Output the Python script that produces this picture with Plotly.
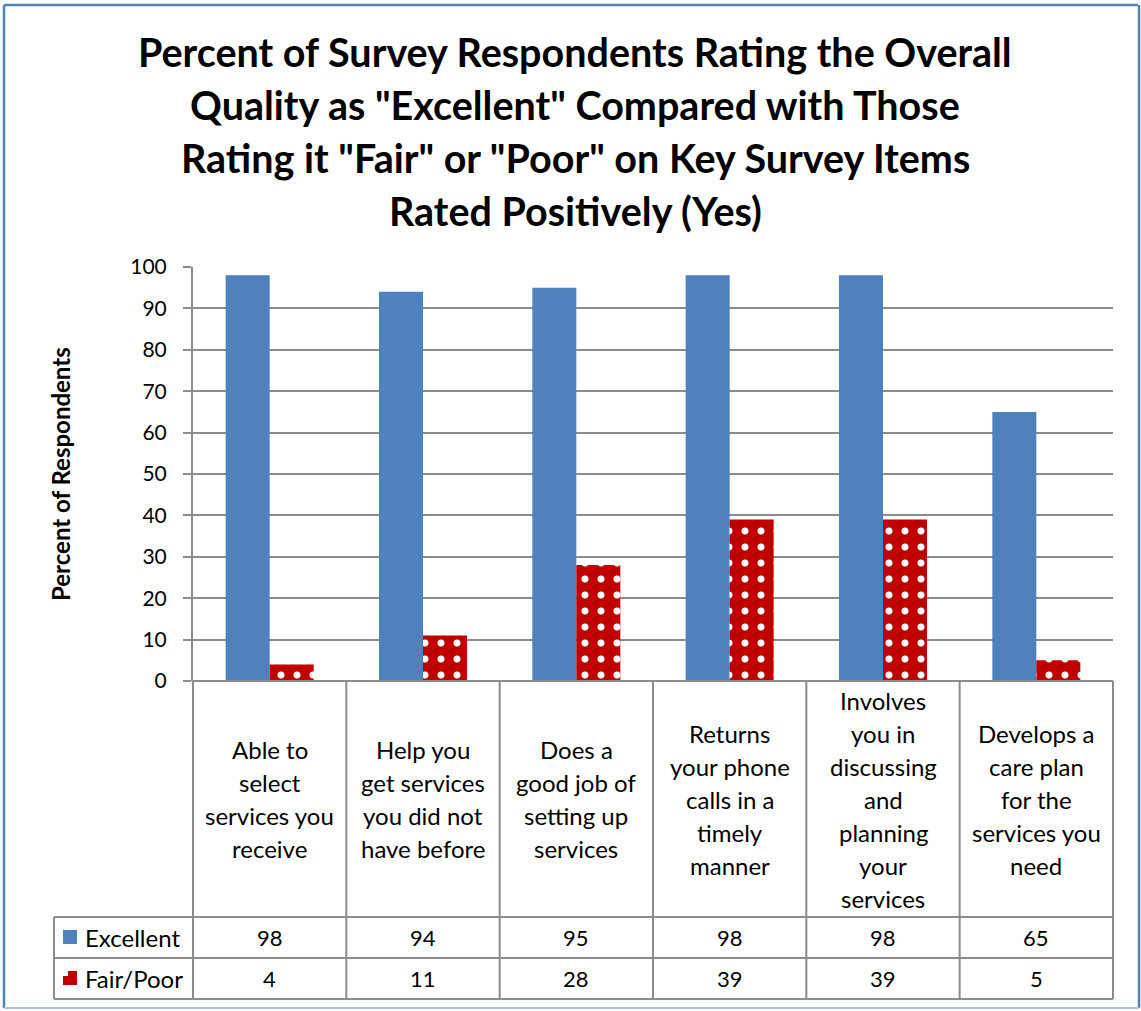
import plotly.graph_objects as go

W, H = 1141, 1011

title_lines = [
    "Percent of Survey Respondents Rating the Overall",
    "Quality as \"Excellent\" Compared with Those",
    "Rating it \"Fair\" or \"Poor\" on Key Survey Items",
    "Rated Positively (Yes)",
]
categories = [
    ["Able to", "select", "services you", "receive"],
    ["Help you", "get services", "you did not", "have before"],
    ["Does a", "good job of", "setting up", "services"],
    ["Returns", "your phone", "calls in a", "timely", "manner"],
    ["Involves", "you in", "discussing", "and", "planning", "your", "services"],
    ["Develops a", "care plan", "for the", "services you", "need"],
]
series_names = ["Excellent", "Fair/Poor"]
excellent = [98, 94, 95, 98, 98, 65]
fair_poor = [4, 11, 28, 39, 39, 5]
y_ticks = [0, 10, 20, 30, 40, 50, 60, 70, 80, 90, 100]
y_title = "Percent of Respondents"

BLUE = "#4f81bd"
RED = "#c00000"
GRID = "#8c8c8c"
FONT = "Lato"

def px(x):
    return x / W

def py(y):
    return 1 - y / H

# layout geometry (pixels)
PL, PR = 193, 1113      # plot left/right
PT, PB = 267, 681       # plot top (100) / bottom (0)
ROW1, ROW2, ROW3 = 917, 958, 999
LEG_L = 54

xs = list(range(len(categories)))

fig = go.Figure()
fig.add_trace(go.Bar(
    x=xs, y=excellent, name=series_names[0],
    marker=dict(color=BLUE, line=dict(width=0)), showlegend=False,
))
fig.add_trace(go.Bar(
    x=xs, y=fair_poor, name=series_names[1],
    marker=dict(color=RED, line=dict(width=0),
                pattern=dict(shape=".", bgcolor=RED, fgcolor="white",
                             size=16, solidity=0.15, fillmode="replace")),
    showlegend=False,
))

shapes = []
def line(x0, y0, x1, y1, color=GRID, width=2):
    shapes.append(dict(type="line", xref="paper", yref="paper",
                       x0=px(x0), y0=py(y0), x1=px(x1), y1=py(y1),
                       line=dict(color=color, width=width)))

# table borders
n = len(categories)
cw = (PR - PL) / n
for i in range(n + 1):
    xb = PL + i * cw
    line(xb, PB, xb, ROW3)
line(LEG_L, ROW1, LEG_L, ROW3)
for yy in (ROW1, ROW2, ROW3):
    line(LEG_L, yy, PR, yy)
line(PL, PB, PR, PB)

# outer frame
line(4, 5, 1138, 5, BLUE, 2.5)
line(4, 5, 4, 1008, BLUE, 2.5)
line(1139, 5, 1139, 1008, BLUE, 2.5)
line(4, 1008, 1139, 1008, "#a7c3e6", 2)

# legend keys in table
shapes.append(dict(type="rect", xref="paper", yref="paper",
                   x0=px(63), x1=px(77), y0=py(944), y1=py(930),
                   fillcolor=BLUE, line=dict(width=0)))
shapes.append(dict(type="rect", xref="paper", yref="paper",
                   x0=px(63), x1=px(77), y0=py(985), y1=py(971),
                   fillcolor=RED, line=dict(width=0)))
shapes.append(dict(type="rect", xref="paper", yref="paper",
                   x0=px(63), x1=px(68), y0=py(976), y1=py(971),
                   fillcolor="white", line=dict(width=0)))

annotations = []
# title
for k, t in enumerate(title_lines):
    annotations.append(dict(text=f"<b>{t}</b>", xref="paper", yref="paper",
                            x=px(575), y=py(52 + k * 52.7), showarrow=False,
                            xanchor="center", yanchor="middle",
                            font=dict(family=FONT, size=39.5, color="black")))
# y title
annotations.append(dict(text=f"<b>{y_title}</b>", xref="paper", yref="paper",
                        x=px(60), y=py(474), textangle=-90, showarrow=False,
                        xanchor="center", yanchor="middle",
                        font=dict(family=FONT, size=24, color="black")))
# category labels
hc = (PB + ROW1) / 2
LS = 33
for i, lines in enumerate(categories):
    m = len(lines)
    for j, t in enumerate(lines):
        annotations.append(dict(text=t, xref="x", yref="paper", x=xs[i],
                                y=py(hc + (j - (m - 1) / 2) * LS),
                                showarrow=False, xanchor="center", yanchor="middle",
                                font=dict(family=FONT, size=24, color="black")))
# values rows
for r, (vals, yc) in enumerate([(excellent, (ROW1 + ROW2) / 2), (fair_poor, (ROW2 + ROW3) / 2)]):
    for i, v in enumerate(vals):
        annotations.append(dict(text=str(v), xref="x", yref="paper", x=xs[i],
                                y=py(yc), showarrow=False, xanchor="center",
                                yanchor="middle",
                                font=dict(family=FONT, size=22, color="black")))
    annotations.append(dict(text=series_names[r], xref="paper", yref="paper",
                            x=px(83), y=py(yc), showarrow=False, xanchor="left",
                            yanchor="middle",
                            font=dict(family=FONT, size=24, color="black")))

fig.update_layout(
    width=W, height=H, autosize=False,
    margin=dict(l=0, r=0, t=0, b=0, pad=0, autoexpand=False),
    paper_bgcolor="white", plot_bgcolor="white",
    barmode="group", bargap=0.426, bargroupgap=0,
    shapes=shapes, annotations=annotations,
    xaxis=dict(domain=[px(PL), px(PR)], range=[-0.5, n - 0.5],
               showticklabels=False, showgrid=False, zeroline=False,
               showline=False, ticks="", fixedrange=True, automargin=False),
    yaxis=dict(domain=[py(PB), py(PT)], range=[0, 100], tickvals=y_ticks,
               showgrid=True, gridcolor=GRID, gridwidth=1.5,
               zeroline=False, showline=True, linecolor=GRID, linewidth=2,
               ticks="outside", ticklen=8, tickcolor=GRID, tickwidth=1.5,
               ticklabelstandoff=12, automargin=False, fixedrange=True,
               tickfont=dict(family=FONT, size=21, color="black")),
    font=dict(family=FONT),
)

fig.write_html("out.html", config={"displayModeBar": False},
               post_script="document.body.style.margin='0';document.body.style.overflow='hidden';")
